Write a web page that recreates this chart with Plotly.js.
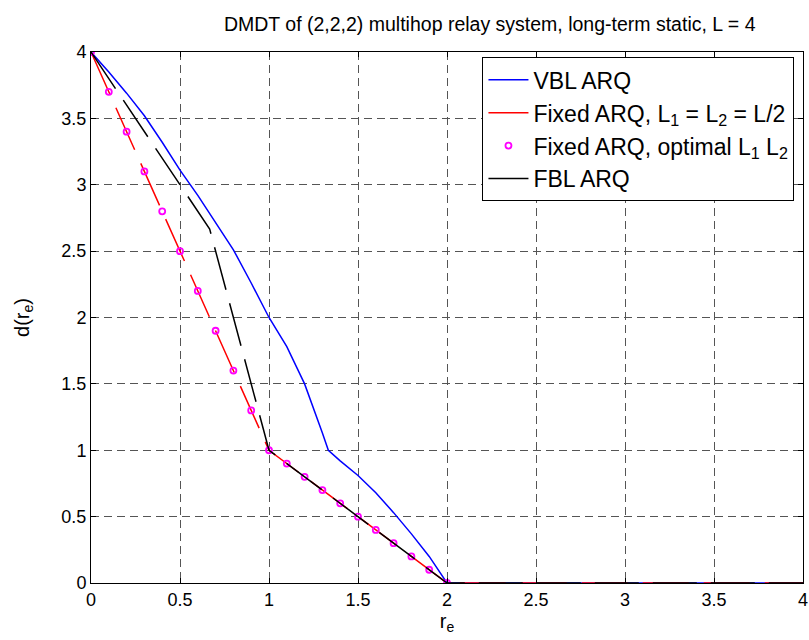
<!DOCTYPE html>
<html>
<head>
<meta charset="utf-8">
<script src="https://cdn.plot.ly/plotly-3.0.1.min.js"></script>
<style>html,body{margin:0;padding:0;background:#fff;}</style>
</head>
<body>
<div id="chart" style="width:809px;height:640px;"></div>
<script>
// VBL ARQ (blue solid)
const vblX = [0, 0.1, 0.2, 0.3, 0.4, 0.5, 0.6, 0.7, 0.8, 0.9, 1.0, 1.1, 1.2, 1.3, 1.3333, 1.4, 1.5, 1.6, 1.7, 1.8, 1.9, 2.0, 4.0];
const vblY = [4, 3.85, 3.69, 3.52, 3.32, 3.11, 2.92, 2.72, 2.51, 2.26, 2.0, 1.78, 1.50, 1.13, 1.0, 0.92, 0.81, 0.68, 0.53, 0.37, 0.20, 0, 0];
// Fixed ARQ, L1 = L2 = L/2 (red dashed)
const fixX = [0, 1, 2, 4];
const fixY = [4, 1, 0, 0];
// Fixed ARQ, optimal L1 L2 (magenta circles)
const optX = [0, 0.1, 0.2, 0.3, 0.4, 0.5, 0.6, 0.7, 0.8, 0.9, 1.0, 1.1, 1.2, 1.3, 1.4, 1.5, 1.6, 1.7, 1.8, 1.9, 2.0];
const optY = [4, 3.7, 3.4, 3.1, 2.8, 2.5, 2.2, 1.9, 1.6, 1.3, 1.0, 0.9, 0.8, 0.7, 0.6, 0.5, 0.4, 0.3, 0.2, 0.1, 0];
// FBL ARQ (black dashed)
const fblX = [0, 0.6667, 1, 2, 4];
const fblY = [4, 2.6667, 1, 0, 0];

const tickVals = [0, 0.5, 1, 1.5, 2, 2.5, 3, 3.5, 4];
const tickText = ['0', '0.5', '1', '1.5', '2', '2.5', '3', '3.5', '4'];

const FONT = 'Liberation Sans, Arial, sans-serif';

const traces = [
  {x: vblX, y: vblY, mode: 'lines', name: 'VBL ARQ',
   line: {color: '#0000ff', width: 1.5}},
  {x: fixX, y: fixY, mode: 'lines', name: 'Fixed ARQ, L<sub>1</sub> = L<sub>2</sub> = L/2',
   line: {color: '#ff0000', width: 1.5, dash: '46px,15px'}},
  {x: optX, y: optY, mode: 'markers', name: 'Fixed ARQ, optimal L<sub>1</sub> L<sub>2</sub>',
   marker: {symbol: 'circle-open', color: '#ff00ff', size: 6, line: {width: 1.8, color: '#ff00ff'}}},
  {x: fblX, y: fblY, mode: 'lines', name: 'FBL ARQ',
   line: {color: '#000000', width: 1.5, dash: '44px,14px'}}
];

const axisCommon = {
  range: [0, 4],
  tickvals: tickVals,
  ticktext: tickText,
  ticks: 'inside',
  ticklen: 5,
  tickcolor: '#000',
  showline: true,
  linecolor: '#000',
  linewidth: 1,
  mirror: 'ticks',
  showgrid: true,
  gridcolor: '#555555',
  gridwidth: 1,
  griddash: '8px,5px',
  zeroline: false,
  tickfont: {family: FONT, size: 18, color: '#000'}
};

const layout = {
  width: 809, height: 640,
  margin: {l: 91, r: 6, t: 52, b: 57},
  paper_bgcolor: '#fff', plot_bgcolor: '#fff',
  font: {family: FONT, color: '#000'},
  title: {text: 'DMDT of (2,2,2) multihop relay system, long-term static, L = 4',
          font: {family: FONT, size: 19.5, color: '#000'}, x: 0.56, xanchor: 'center', xref: 'paper', y: 0.962, yanchor: 'middle'},
  xaxis: Object.assign({}, axisCommon, {
    title: {text: 'r<sub>e</sub>', font: {family: FONT, size: 20}, standoff: 2}
  }),
  yaxis: Object.assign({}, axisCommon, {
    title: {text: 'd(r<sub>e</sub>)', font: {family: FONT, size: 20}, standoff: 26}
  }),
  showlegend: true,
  legend: {
    x: 0.988, xanchor: 'right', y: 0.99, yanchor: 'top',
    bgcolor: '#fff', bordercolor: '#000', borderwidth: 1,
    font: {family: FONT, size: 23, color: '#000'},
    tracegroupgap: 0, itemwidth: 40
  }
};

Plotly.newPlot('chart', traces, layout, {displayModeBar: false, staticPlot: true});
</script>
</body>
</html>
